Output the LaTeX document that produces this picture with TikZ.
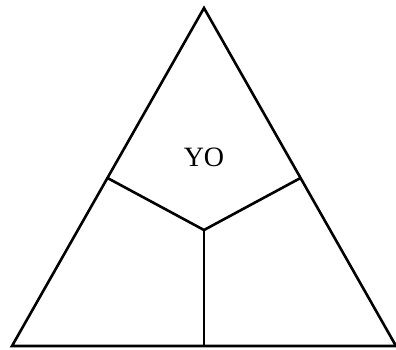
\documentclass[tikz,border=0pt]{standalone}
\usepackage{fontspec}
\setmainfont{Liberation Serif}
\tikzset{edge/.style={line width=2.6pt, line join=miter, black}}
\begin{document}
\begin{tikzpicture}[x=1pt,y=-1pt]
\useasboundingbox (0,0) rectangle (396,349);
\coordinate (top) at (204,8);
\coordinate (bl) at (12,346);
\coordinate (br) at (396,346);
\coordinate (lm) at (107.5,178);
\coordinate (rm) at (300.5,178);
\coordinate (c) at (204,230);
\coordinate (bm) at (204,346);
\draw[edge] (top) -- (br) -- (bl) -- cycle;
\draw[edge] (lm) -- (c) -- (rm);
\draw[edge] (c) -- (bm);
\node[font=\fontsize{28}{30}\selectfont, inner sep=0pt] (yo) at (204,157) {YO};
\end{tikzpicture}
\end{document}
